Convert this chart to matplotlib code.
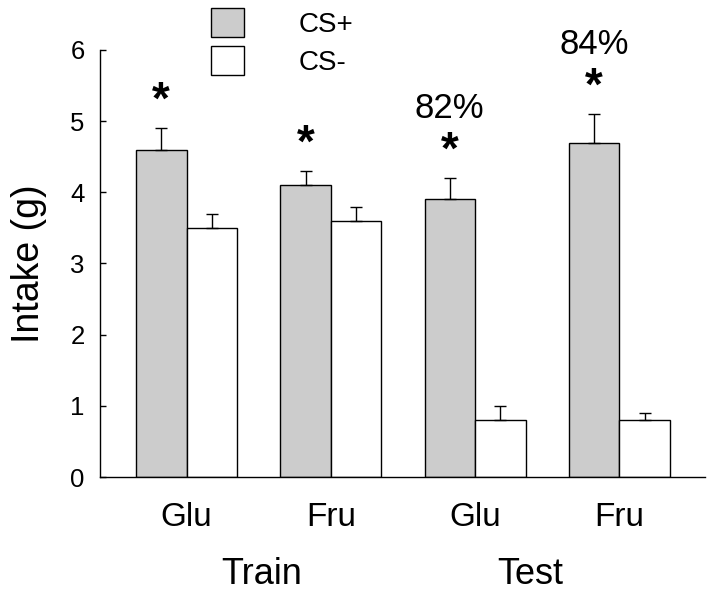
import matplotlib
matplotlib.use("Agg")
import numpy as np
from matplotlib import pyplot as plt
from matplotlib.patches import Patch

plt.rcParams['font.family'] = ['Liberation Sans', 'DejaVu Sans']

# values
groups = ['Glu', 'Fru', 'Glu', 'Fru']
phases = ['Train', 'Test']
cs_plus = [4.6, 4.1, 3.9, 4.7]
cs_plus_err = [0.3, 0.2, 0.3, 0.4]
cs_minus = [3.5, 3.6, 0.8, 0.8]
cs_minus_err = [0.2, 0.2, 0.2, 0.1]
percents = ['', '', '82%', '84%']
stars = [True, True, True, True]

x = np.arange(len(groups))
w = 0.35

fig = plt.figure(figsize=(7.14, 5.93), dpi=100)
ax = fig.add_axes([0.140, 0.1956, 0.8474, 0.7201])

ax.bar(x - w / 2, cs_plus, w, color='#cccccc', edgecolor='black', linewidth=1.0, label='CS+')
ax.bar(x + w / 2, cs_minus, w, color='white', edgecolor='black', linewidth=1.0, label='CS-')

ax.errorbar(x - w / 2, cs_plus, yerr=[np.zeros(len(x)), cs_plus_err], fmt='none',
            ecolor='black', elinewidth=1.0, capsize=4, capthick=1.0)
ax.errorbar(x + w / 2, cs_minus, yerr=[np.zeros(len(x)), cs_minus_err], fmt='none',
            ecolor='black', elinewidth=1.0, capsize=4, capthick=1.0)

for i in range(len(x)):
    top = cs_plus[i] + cs_plus_err[i]
    if stars[i]:
        ax.text(x[i] - w / 2, top + 0.37, '*', ha='center', va='center',
                fontsize=33, fontweight='bold')
    if percents[i]:
        ax.text(x[i] - w / 2, top + 0.98, percents[i], ha='center', va='center',
                fontsize=25)

ax.set_xlim(-0.6, 3.594)
ax.set_ylim(0, 6)
ax.set_yticks(range(7))
ax.tick_params(axis='y', direction='in', length=4.5, width=1.0, labelsize=18.5, pad=11)
ax.set_xticks(x)
ax.set_xticklabels(groups)
ax.tick_params(axis='x', length=0, labelsize=24, pad=18)

ax.spines['top'].set_visible(False)
ax.spines['right'].set_visible(False)
ax.spines['left'].set_linewidth(1.0)
ax.spines['bottom'].set_linewidth(1.0)

ax.set_ylabel('Intake (g)', fontsize=27, labelpad=17)

# phase labels under the group names
phase_y = -(584 - 477) / (0.7201 * 593)
ax.text(0.52, phase_y, phases[0], transform=ax.get_xaxis_transform(), ha='center',
        va='baseline', fontsize=26)
ax.text(2.38, phase_y, phases[1], transform=ax.get_xaxis_transform(), ha='center',
        va='baseline', fontsize=26)

handles = [Patch(facecolor='#cccccc', edgecolor='black', linewidth=1.0),
           Patch(facecolor='white', edgecolor='black', linewidth=1.0)]
fig.legend(handles, ['CS+', 'CS-'], loc='upper left',
           bbox_to_anchor=(211 / 714, 1 - 8 / 593), frameon=False, fontsize=20,
           borderpad=0, borderaxespad=0, handlelength=1.19, handleheight=1.22,
           handletextpad=1.95, labelspacing=0.3)

fig.savefig('out.png', dpi=100)
